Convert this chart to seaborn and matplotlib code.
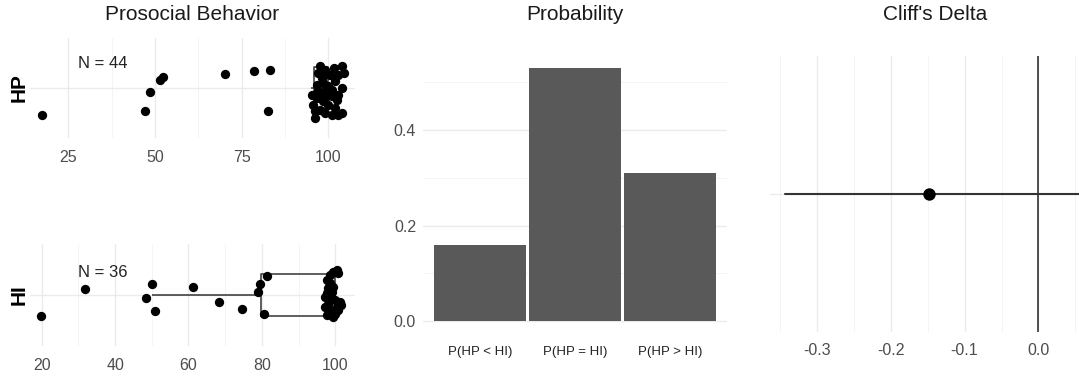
import matplotlib.pyplot as plt
import numpy as np
import seaborn as sns

# Prosocial behaviour scores as they sit on the chart (jittered x) and the vertical jitter
hp_scores = [
    17.3, 47.0, 48.6, 51.4, 52.4, 70.2, 78.7, 83.2, 82.6,
    97.6, 99.0, 101.5, 103.9, 104.4, 97.1, 100.5, 96.6, 98.6, 101.9,
    103.9, 97.1, 99.0, 101.0, 96.6, 98.6, 101.0, 100.0, 95.7, 97.6,
    101.9, 103.9, 99.0, 96.1, 101.0, 98.1, 102.9, 99.5, 97.6, 102.9,
    96.1, 102.9, 100.0, 95.2, 102.4,
]
hp_jitter = [
    -0.32, -0.28, -0.05, 0.10, 0.13, 0.17, 0.21, 0.22, -0.28,
    0.26, 0.22, 0.24, 0.26, 0.18, 0.18, 0.16, 0.04, 0.06, 0.08,
    0.00, -0.04, -0.04, -0.02, -0.12, -0.16, -0.10, -0.20, -0.20, -0.26,
    -0.24, -0.30, -0.30, -0.36, -0.32, 0.12, 0.16, -0.10, -0.08, -0.08,
    -0.28, -0.32, 0.02, -0.08, -0.14,
]
hi_scores = [
    19.8, 31.8, 50.0, 48.3, 50.9, 61.1, 68.4, 74.7, 81.3, 79.5, 78.9, 80.7,
    100.4, 99.5, 100.7, 98.6, 97.7, 98.6, 98.1, 99.5, 97.7, 97.2, 98.6, 99.9,
    101.3, 101.7, 100.4, 98.1, 97.2, 98.6, 99.9, 97.7, 99.5, 100.8, 98.1, 99.0,
]
hi_jitter = [
    -0.25, 0.07, 0.13, -0.04, -0.19, 0.09, -0.08, -0.16, 0.22, 0.13, 0.03, -0.22,
    0.29, 0.27, 0.26, 0.24, 0.18, 0.14, 0.08, 0.10, 0.02, -0.02, -0.04, -0.06,
    -0.08, -0.12, -0.14, -0.10, -0.14, -0.18, -0.22, -0.24, -0.26, -0.18, 0.00, 0.03,
]

prob_labels = ["P(HP < HI)", "P(HP = HI)", "P(HP > HI)"]
prob_values = [0.16, 0.53, 0.31]

cliff_delta = -0.148
cliff_ci = [-0.343, 0.063]

W, H = 1079, 378
FONT = ["Liberation Sans", "DejaVu Sans"]
TICK_COLOR = "#4D4D4D"
GRID_MAJOR = "#EBEBEB"
GRID_MINOR = "#F3F3F3"

sns.set_theme(style="white")
plt.rcParams["font.family"] = FONT


def px_axes(fig, left, top, right, bottom):
    return fig.add_axes([left / W, 1 - bottom / H, (right - left) / W, (bottom - top) / H])


def style_axes(ax):
    for spine in ax.spines.values():
        spine.set_visible(False)
    ax.set_axisbelow(True)
    ax.tick_params(which="both", length=0, labelsize=11.5, labelcolor=TICK_COLOR)
    ax.set_xlabel("")
    ax.set_ylabel("")


def draw_group(ax, scores, jitter, xlim, major, minor, label, n_text, n_pos):
    # box is built on the un-jittered scores (whole numbers, scale tops out at 100)
    raw = np.minimum(np.round(scores), 100)
    sns.boxplot(
        x=raw, ax=ax, width=0.5, fill=False, color="#333333", linewidth=1.1,
        showfliers=False, showcaps=False,
    )
    sns.scatterplot(x=scores, y=jitter, ax=ax, color="black", s=45, linewidth=0, zorder=3)
    ax.text(n_pos[0], n_pos[1], n_text, ha="center", va="center", fontsize=12, color="#222222")
    ax.set_xlim(*xlim)
    ax.set_ylim(-0.6, 0.6)
    ax.set_xticks(major)
    ax.set_xticks(minor, minor=True)
    ax.set_xticklabels([str(v) for v in major])
    ax.set_yticks([0])
    ax.set_yticklabels([label], rotation=90, va="center", fontweight="bold",
                       fontsize=15, color="black")
    style_axes(ax)
    ax.tick_params(axis="x", pad=9)
    ax.tick_params(axis="y", pad=1, labelsize=15, labelcolor="black")
    ax.grid(True, which="major", color=GRID_MAJOR, linewidth=1.0)
    ax.grid(True, which="minor", axis="x", color=GRID_MINOR, linewidth=0.6)


fig = plt.figure(figsize=(W / 100, H / 100), dpi=100)

ax_hp = px_axes(fig, 30, 38, 355, 138)
draw_group(ax_hp, hp_scores, hp_jitter, (13.95, 107.7), [25, 50, 75, 100],
           [37.5, 62.5, 87.5], "HP", "N = 44", (34.9, 0.29))

ax_hi = px_axes(fig, 30, 244, 355, 346)
draw_group(ax_hi, hi_scores, hi_jitter, (16.8, 105.4), [20, 40, 60, 80, 100],
           [30, 50, 70, 90], "HI", "N = 36", (36.6, 0.27))

# Probability bars
ax_p = px_axes(fig, 423, 55, 727, 334)
sns.barplot(x=prob_labels, y=prob_values, ax=ax_p, color="#595959", saturation=1,
            width=0.97, edgecolor="none")
top = max(prob_values)
ax_p.set_xlim(-0.6, 2.6)
ax_p.set_ylim(-0.05 * top, 1.05 * top)
ax_p.set_yticks([0.0, 0.2, 0.4])
ax_p.set_yticks([0.1, 0.3, 0.5], minor=True)
ax_p.set_yticklabels(["0.0", "0.2", "0.4"])
style_axes(ax_p)
ax_p.tick_params(axis="x", labelsize=9.5, labelcolor="#222222", pad=9)
ax_p.tick_params(axis="y", pad=5)
ax_p.grid(True, which="major", axis="y", color=GRID_MAJOR, linewidth=1.0)
ax_p.grid(True, which="minor", axis="y", color=GRID_MINOR, linewidth=0.6)
ax_p.grid(False, axis="x")

# Cliff's delta
ax_c = px_axes(fig, 770, 56, 1100, 332)
ax_c.plot(cliff_ci, [0, 0], color="#333333", linewidth=1.5, zorder=2)
ax_c.axvline(0, color="#333333", linewidth=1.2, zorder=2)
sns.scatterplot(x=[cliff_delta], y=[0], ax=ax_c, color="black", s=80, linewidth=0, zorder=4)
ax_c.set_xlim(-0.3633, 0.0833)
ax_c.set_ylim(-0.6, 0.6)
ax_c.set_xticks([-0.3, -0.2, -0.1, 0.0])
ax_c.set_xticks([-0.35, -0.25, -0.15, -0.05, 0.05], minor=True)
ax_c.set_xticklabels(["-0.3", "-0.2", "-0.1", "0.0"])
ax_c.set_yticks([0])
ax_c.set_yticklabels([""])
style_axes(ax_c)
ax_c.tick_params(axis="x", pad=8)
ax_c.grid(True, which="major", color=GRID_MAJOR, linewidth=1.0)
ax_c.grid(True, which="minor", axis="x", color=GRID_MINOR, linewidth=0.6)

for text, cx in [("Prosocial Behavior", 192.5), ("Probability", 575), ("Cliff's Delta", 935)]:
    fig.text(cx / W, 1 - 15 / H, text, ha="center", va="center", fontsize=15, color="#1A1A1A")

fig.savefig("out.png", dpi=100)
plt.close(fig)
